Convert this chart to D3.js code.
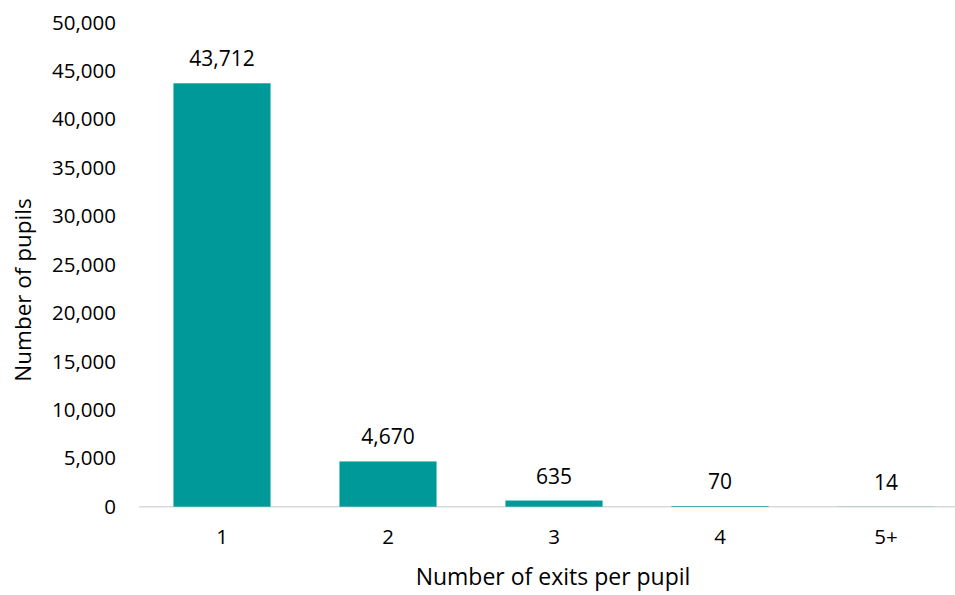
<!DOCTYPE html>
<html><head><meta charset="utf-8">
<script src="https://cdn.jsdelivr.net/npm/d3@7"></script>
<style>body{margin:0;background:#fff}svg{display:block}text{font-family:"Open Sans",sans-serif;fill:#000}</style>
</head><body><svg id="c" width="955" height="595"></svg>
<script>
const categories = ["1","2","3","4","5+"];
const values = [43712, 4670, 635, 70, 14];
const yTicks = [0,5000,10000,15000,20000,25000,30000,35000,40000,45000,50000];
const xTitle = "Number of exits per pupil";
const yTitle = "Number of pupils";

const svg = d3.select("#c");
const fmt = d3.format(",");
const x = d3.scaleBand().domain(categories).range([139, 969]).paddingInner(0.415).paddingOuter(0.2075);
const y = d3.scaleLinear().domain([0, 50000]).range([506.7, 22.4]);

svg.append("line").attr("x1",139).attr("x2",969).attr("y1",y(0)).attr("y2",y(0))
  .attr("stroke","#d9d9d9").attr("stroke-width",1.5);

svg.selectAll("rect.bar").data(values).join("rect").attr("class","bar")
  .attr("x",(d,i)=>x(categories[i])).attr("width",x.bandwidth())
  .attr("y",d=>y(d)).attr("height",d=>y(0)-y(d)).attr("fill","#009999");

svg.selectAll("text.lbl").data(values).join("text").attr("class","lbl")
  .attr("x",(d,i)=>x(categories[i])+x.bandwidth()/2).attr("y",d=>y(d)-17)
  .attr("text-anchor","middle").attr("font-size",21).text(d=>fmt(d));

svg.selectAll("text.yt").data(yTicks).join("text").attr("class","yt")
  .attr("x",116).attr("y",d=>y(d)).attr("dy","0.35em").attr("text-anchor","end")
  .attr("font-size",20.5).text(d=>fmt(d));

svg.selectAll("text.xt").data(categories).join("text").attr("class","xt")
  .attr("x",d=>x(d)+x.bandwidth()/2).attr("y",537).attr("dy","0.35em")
  .attr("text-anchor","middle").attr("font-size",20.5).text(d=>d);

svg.append("text").attr("x",553).attr("y",577).attr("dy","0.35em").attr("text-anchor","middle")
  .attr("font-size",23).text(xTitle);
svg.append("text").attr("transform","translate(23,290) rotate(-90)").attr("dy","0.35em")
  .attr("text-anchor","middle").attr("font-size",22.5).text(yTitle);
</script></body></html>
